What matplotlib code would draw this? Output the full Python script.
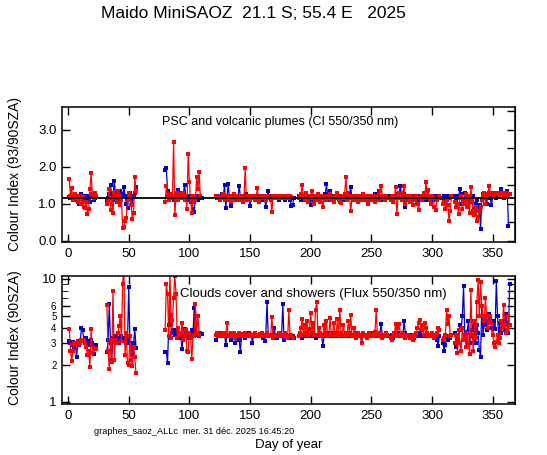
import numpy as np
import matplotlib
matplotlib.use("Agg")
import matplotlib.pyplot as plt
from matplotlib.ticker import FixedLocator, NullFormatter

nan = np.nan

# ---------------- data ----------------
# segment start days (day of year)
seg_starts = [1, 32, 80, 122, 190, 266, 309, 319]

# Top panel: Colour index (93/90 SZA) - blue (morning) series
ci_blue_1 = [1.18,1.15,1.2,1.12,1.1,1.18,1.15,1.2,0.99,1.22,1.25,1.2,1.1,1.05,1.15,1.2,1.1,1.05,1.18,1.2,1.1,1.15,1.2]
ci_blue_2 = [1.1,1.15,1.25,1.51,1.2,1.1,1.62,1.3,1.15,1.05,1.2,1.33,1.1,1.25,1.45,1.2,1.0,0.88,1.2,1.3,1.15,1.0,1.2,1.3,1.45]
ci_blue_3 = [1.92,1.96,1.35,1.2,1.15,1.25,1.2,1.1,1.15,1.2,1.25,1.38,1.3,1.2,1.15,1.25,1.51,1.2,1.1,1.15,1.2,1.05,1.1,0.85,0.78,1.15,1.2,1.1,1.15,1.2,1.15]
ci_blue_4 = [1.2,1.15,1.2,1.1,1.18,1.25,1.2,1.51,0.88,1.2,
             1.53,1.1,0.94,1.15,1.2,1.1,1.18,1.22,1.15,1.48,
             1.2,1.15,1.1,1.2,1.15,1.25,1.1,1.15,0.94,1.2,
             1.15,1.18,1.2,1.1,1.15,1.2,1.18,1.15,1.1,1.2,
             1.15,0.92,1.2,1.35,1.15,1.1,1.2,1.15,1.18,1.2,
             1.15,1.2,1.1,1.18,1.2,1.15,1.2,1.1,1.18,1.2,
             1.15,1.1,0.93,0.95,1.15]
ci_blue_5 = [1.2,1.15,1.1,1.2,1.15,1.2,1.1,1.15,1.2,1.1,
             0.97,1.2,1.15,1.1,1.2,1.15,1.2,1.18,1.1,1.15,
             1.2,1.15,1.25,1.53,1.2,1.1,1.35,1.2,1.15,1.1,
             1.2,1.15,1.18,1.1,1.2,1.15,1.1,1.2,1.15,1.1,
             1.15,1.2,1.25,1.44,1.15,1.1,1.2,1.15,1.2,1.18,
             1.15,1.2,1.1,1.18,1.2,1.15,1.2,1.1,1.15,1.2,
             1.18,1.15,1.1,1.25,1.2,1.15,1.35,1.2,1.15,1.1,
             1.2,1.15,1.18,1.2]
ci_blue_6 = [1.2,1.15,1.1,1.2,1.15,1.25,1.2,1.3,1.48,1.15,
             1.2,1.25,0.92,1.15,1.2,1.18,1.15,1.2,1.1,1.15,
             1.2,1.15,1.1,1.18,1.2,1.15,1.2,1.25,1.15,1.1,
             1.2,1.15,1.18,1.1,1.2,1.15,1.2,1.1,1.15,1.2,
             1.15]
ci_blue_7 = [1.15,1.2,1.1,1.18,1.2,1.15,1.2,1.18]
ci_blue_8 = [1.2,1.1,1.15,1.2,1.39,1.25,1.0,1.1,1.3,1.2,
             1.15,0.9,1.2,1.05,1.1,1.2,0.85,1.0,1.1,0.8,
             0.95,0.31,1.1,1.25,1.2,1.15,1.0,1.2,1.3,1.15,
             0.95,1.2,1.25,1.3,1.15,1.25,1.3,1.25,1.39,1.3,
             1.15,1.25,1.3,1.35,0.4]

# Top panel: red (evening) series
ci_red_1 = [1.66,1.2,1.42,1.1,1.2,1.25,1.15,1.05,1.12,1.2,1.0,1.18,0.92,0.88,1.05,0.72,0.85,1.4,1.83,1.25,1.15,1.3,1.2]
ci_red_2 = [0.99,1.1,1.39,0.83,1.15,0.74,1.3,1.2,1.05,1.35,1.2,0.95,1.1,0.34,0.38,0.53,0.6,1.1,1.3,1.2,0.95,0.59,0.75,1.71,1.35]
ci_red_3 = [1.04,1.48,1.2,1.1,1.25,1.15,1.2,2.67,0.7,1.2,1.3,1.1,1.25,1.15,1.2,1.3,1.1,1.2,0.86,2.35,1.6,1.1,0.75,1.2,1.05,1.1,1.73,1.4,1.85,1.2]
ci_red_4 = [1.2,1.18,1.15,1.1,1.2,1.15,1.25,1.1,1.2,1.15,
            1.1,1.2,1.05,1.15,1.2,1.25,1.1,1.15,1.2,1.1,
            1.15,1.2,1.05,1.15,1.96,1.1,1.2,1.15,1.1,1.2,
            1.15,1.2,1.1,1.15,1.42,1.05,1.15,1.2,1.18,1.15,
            1.2,1.1,1.15,1.2,1.15,1.1,0.77,1.2,1.15,1.18,
            1.2,1.15,1.18,1.2,1.15,1.2,1.18,1.15,1.2,1.18,
            1.15,1.2,1.18]
ci_red_5 = [1.15,1.2,1.25,1.51,1.2,1.1,1.3,1.2,1.05,1.15,
            1.2,1.35,1.15,1.0,1.2,1.1,1.25,1.15,1.05,1.2,
            0.9,1.15,1.2,1.1,1.15,1.2,1.25,1.1,1.15,1.05,
            1.2,1.15,1.3,1.1,1.05,1.01,1.2,1.15,1.25,1.73,
            1.1,1.3,1.2,0.8,1.15,1.2,1.1,1.15,1.2,1.05,
            1.15,1.2,1.1,1.25,1.15,1.1,1.2,1.0,1.15,1.2,
            1.1,1.2,1.15,1.05,1.2,1.15,1.1,1.35,1.49,1.2,
            1.15,1.1,1.2,1.15]
ci_red_6 = [1.1,1.2,1.05,1.15,1.45,0.72,1.2,1.3,1.15,1.1,
            1.3,1.49,1.0,1.2,1.1,1.15,1.05,1.2,0.95,1.15,
            1.1,1.2,1.0,0.82,1.15,1.2,1.1,1.3,1.15,1.58,
            1.2,1.38,1.1,1.0,1.2,1.15,0.9,0.82,1.1,1.15,
            1.2]
ci_red_7 = [1.0,1.05,0.86,1.1,0.95,0.54,0.8,1.2]
ci_red_8 = [1.05,0.9,1.0,0.72,1.15,1.2,0.85,1.1,1.0,1.25,
            0.9,1.2,0.75,1.45,1.1,0.8,0.7,0.9,0.54,0.65,
            0.8,0.9,1.1,1.2,1.3,1.0,1.2,1.25,1.48,1.3,
            1.25,1.3,1.2,1.3,1.25,1.3,1.2,1.3,1.25,1.3,
            1.2,1.3,1.25,1.3,1.2,1.25]

# Bottom panel: Colour index (90 SZA), flux 550/350 - blue series
fx_blue_1 = [3.1,3.0,2.9,3.05,2.8,3.0,2.3,3.0,2.9,3.1,3.95,3.8,3.2,3.1,3.3,3.1,3.0,2.9,3.2,3.0,2.45,2.9,2.9]
fx_blue_2 = [2.55,3.2,6.2,3.0,2.2,3.3,3.1,3.4,3.2,3.3,3.0,3.3,3.4,3.2,3.3,3.1,3.0,3.2,8.5,3.0,2.8,2.4,3.0,3.9,2.75]
fx_blue_3 = [2.55,2.55,2.06,4.2,5.1,4.3,3.6,3.8,3.5,3.7,3.4,3.6,3.5,3.3,2.7,3.4,3.9,3.5,3.4,3.6,3.3,3.5,3.8,3.6,5.8,3.7,3.5,3.6,3.4,3.6,3.55]
fx_blue_4 = [3.2,3.5,3.6,3.4,3.5,3.55,3.4,3.6,2.9,3.5,
             3.4,3.5,3.2,3.6,3.4,3.5,3.0,3.4,3.5,3.2,
             2.53,3.4,3.5,3.45,3.3,3.5,3.4,3.6,3.5,3.45,
             3.0,3.5,3.4,3.5,3.45,3.4,3.5,3.55,3.4,3.3,
             3.1,3.5,6.5,3.4,3.5,3.45,3.4,3.5,4.0,3.4,
             3.3,3.4,3.5,3.45,3.4,6.2,3.2,3.4,3.5,3.45,
             3.4,3.3,3.5,3.4,3.3]
fx_blue_5 = [3.4,3.5,3.45,3.3,3.5,3.4,3.5,3.45,3.4,3.5,
             3.45,3.4,3.5,3.45,3.3,3.4,3.5,3.45,3.4,3.5,
             2.86,3.4,3.5,3.45,3.6,3.4,3.5,3.45,3.4,3.5,
             3.45,3.4,3.5,3.6,3.4,3.5,3.45,3.4,3.5,3.55,
             3.4,3.5,3.45,3.4,3.5,3.45,3.4,3.5,3.6,3.4,
             3.5,3.45,3.0,3.4,3.5,3.45,3.4,3.5,3.45,3.6,
             3.5,3.4,3.45,3.5,3.4,3.5,3.45,3.6,4.25,3.5,
             3.4,3.5,3.45,3.4]
fx_blue_6 = [3.4,3.5,3.3,3.45,3.5,3.4,3.6,3.5,3.45,3.4,
             3.5,4.5,3.6,3.4,3.5,3.45,3.4,3.5,3.45,3.3,
             3.5,3.45,3.4,3.5,3.6,3.4,3.5,3.45,3.4,3.5,
             3.45,3.4,3.5,3.4,3.45,3.5,3.3,3.4,3.2,2.84,
             3.4]
fx_blue_7 = [3.0,2.6,2.9,3.3,3.2,3.4,3.3,3.5]
fx_blue_8 = [3.6,2.8,3.5,3.0,4.2,3.8,5.0,8.7,3.5,3.2,
             3.7,4.5,3.0,3.4,3.8,4.5,3.3,3.0,4.2,3.6,
             2.65,2.3,6.0,3.5,4.2,5.0,3.8,4.5,5.2,4.8,
             4.0,3.5,4.5,3.9,9.5,5.0,3.3,4.4,3.6,4.2,
             4.5,3.8,5.2,4.4,3.6,9.0]

# Bottom panel: red series
fx_red_1 = [3.9,2.6,2.15,2.6,3.0,2.9,3.0,3.1,3.05,3.0,3.2,3.1,3.15,3.0,2.8,2.4,2.6,1.9,3.9,2.5,2.7,2.75,2.7]
fx_red_2 = [6.1,2.6,1.85,3.2,2.1,7.9,2.2,3.2,3.0,3.6,4.1,5.0,3.1,9.1,12.0,2.4,3.6,2.05,2.0,3.4,2.2,1.95,2.8,2.3,1.7]
fx_red_3 = [3.8,9.0,7.5,3.4,12.0,3.3,4.6,7.0,10.5,7.5,3.3,4.0,3.5,3.6,4.4,3.2,3.5,3.8,2.6,2.55,3.6,3.3,2.22,3.5,3.4,6.2,3.6,5.0,3.5]
fx_red_4 = [3.5,3.6,3.4,3.55,3.5,3.6,3.45,3.4,3.6,4.33,
            3.5,3.45,3.6,3.4,3.5,3.6,3.3,3.5,3.45,3.6,
            3.5,3.4,3.55,3.5,3.6,3.4,3.5,3.45,3.55,3.5,
            3.45,3.5,3.6,3.5,3.4,3.5,3.55,3.45,3.6,3.4,
            3.5,3.45,3.6,3.4,3.5,3.45,4.9,3.3,3.45,3.5,
            3.4,3.5,3.6,3.45,3.4,3.5,3.45,3.6,3.4,3.3,
            5.55,3.4,3.5,3.3]
fx_red_5 = [3.4,3.6,4.0,4.7,3.5,4.2,3.6,4.5,3.4,3.9,
            5.3,3.6,4.4,3.5,5.6,6.5,3.5,4.0,3.6,3.4,
            3.5,4.2,3.6,4.5,3.4,3.5,4.8,3.6,3.5,4.4,
            3.6,3.5,4.7,3.4,5.6,3.6,3.5,4.2,3.4,3.6,
            3.5,4.5,3.6,5.1,3.4,3.5,4.0,3.3,3.5,3.6,
            3.4,3.5,3.0,3.6,3.4,3.5,3.3,3.5,3.6,3.4,
            3.5,3.4,3.6,3.7,5.6,3.5,3.4,3.6,3.5,3.3,
            3.5,3.4,3.6,3.5]
fx_red_6 = [3.3,3.2,3.5,3.6,4.3,3.4,4.0,4.3,3.5,3.4,
            3.6,3.5,3.3,3.4,3.5,3.45,3.3,3.4,3.2,3.5,
            3.4,3.6,4.0,4.4,4.65,3.8,4.2,3.5,4.4,3.95,
            3.6,3.4,3.5,3.45,3.6,3.4,3.3,3.5,3.6,4.0,
            3.8]
fx_red_7 = [3.2,3.3,3.5,5.6,4.25,5.0,3.4,3.5]
fx_red_8 = [3.0,3.5,2.5,3.8,3.0,2.6,4.0,3.2,3.5,2.8,
            3.6,3.0,2.44,8.05,3.5,2.6,4.5,3.3,6.5,9.8,
            5.0,9.3,6.0,5.0,4.5,6.9,5.0,4.0,4.5,5.0,
            4.4,3.5,3.0,2.8,3.05,3.5,3.0,3.3,4.5,4.0,
            6.1,4.2,3.6,3.8,5.0,4.2]

ci_ref_level = 1.15

x_ticks = [0, 50, 100, 150, 200, 250, 300, 350]
top_y_ticks = [0.0, 1.0, 2.0, 3.0]
top_y_labels = ["0.0", "1.0", "2.0", "3.0"]
bot_y_ticks = [1, 2, 3, 4, 5, 6, 10]
bot_y_labels = ["1", "2", "3", "4", "5", "6", "10"]

title = "Maido MiniSAOZ  21.1 S; 55.4 E   2025"
top_note = "PSC and volcanic plumes (CI 550/350 nm)"
bot_note = "Clouds cover and showers (Flux 550/350 nm)"
top_ylabel = "Colour Index (93/90SZA)"
bot_ylabel = "Colour Index (90SZA)"
xlabel = "Day of year"
footer = "graphes_saoz_ALLc  mer. 31 déc. 2025 16:45:20"

# ---------------- assembly ----------------
def assemble(segments):
    days = []
    vals = []
    for start, seg in zip(seg_starts, segments):
        d = np.arange(start, start + len(seg))
        days.extend(d.tolist())
        vals.extend(seg)
        days.append(start + len(seg))
        vals.append(nan)
    return np.array(days, float), np.array(vals, float)

d_cib, v_cib = assemble([ci_blue_1, ci_blue_2, ci_blue_3, ci_blue_4, ci_blue_5, ci_blue_6, ci_blue_7, ci_blue_8])
d_cir, v_cir = assemble([ci_red_1, ci_red_2, ci_red_3, ci_red_4, ci_red_5, ci_red_6, ci_red_7, ci_red_8])
d_fxb, v_fxb = assemble([fx_blue_1, fx_blue_2, fx_blue_3, fx_blue_4, fx_blue_5, fx_blue_6, fx_blue_7, fx_blue_8])
d_fxr, v_fxr = assemble([fx_red_1, fx_red_2, fx_red_3, fx_red_4, fx_red_5, fx_red_6, fx_red_7, fx_red_8])

plt.rcParams['font.family'] = ['Liberation Sans', 'DejaVu Sans']

W, H = 547, 455
fig = plt.figure(figsize=(W / 100, H / 100), dpi=100)
fig.patch.set_facecolor('white')

BLUE = '#0000CC'
RED = '#FF0000'

def fr(x0, y0, x1, y1):
    return [x0 / W, 1 - y1 / H, (x1 - x0) / W, (y1 - y0) / H]

ax1 = fig.add_axes(fr(62, 107, 515, 242))
ax2 = fig.add_axes(fr(62, 276, 515, 404))

style = dict(lw=0.9, marker='s', ms=2.8, mew=0)
ax1.plot(d_cib, v_cib, color=BLUE, **style)
ax1.plot(d_cir, v_cir, color=RED, **style)
ax1.axhline(ci_ref_level, color='black', lw=1.3, zorder=5)

ax2.plot(d_fxb, v_fxb, color=BLUE, **style)
ax2.plot(d_fxr, v_fxr, color=RED, **style)
ax2.set_yscale('log')

for ax in (ax1, ax2):
    ax.set_xlim(-5, 368.4)
    ax.set_xticks(x_ticks)
    ax.set_xticklabels([str(t) for t in x_ticks], fontsize=9.5)
    ax.tick_params(axis='both', direction='in', length=6, width=1, top=True, right=False, pad=4)
    for s in ax.spines.values():
        s.set_linewidth(1.1)

ax1.set_ylim(-0.04, 3.62)
ax1.set_yticks(top_y_ticks)
ax1.set_yticklabels(top_y_labels, fontsize=9.5)
sec1 = ax1.secondary_yaxis('right')
sec1.set_yticks([0.0, 0.5, 1.0, 1.5, 2.0, 2.5, 3.0, 3.5])
sec1.set_yticklabels([])
sec1.tick_params(direction='in', length=6, width=1)

ax2.set_ylim(0.96, 10.5)
ax2.yaxis.set_major_locator(FixedLocator(bot_y_ticks))
ax2.set_yticklabels(bot_y_labels)
for lab, t in zip(ax2.get_yticklabels(), bot_y_ticks):
    lab.set_fontsize(9.5 if t in (1, 10) else 7)
ax2.yaxis.set_minor_locator(FixedLocator([7, 8, 9]))
ax2.yaxis.set_minor_formatter(NullFormatter())
ax2.tick_params(axis='y', which='minor', direction='in', length=4)
sec2 = ax2.secondary_yaxis('right')
sec2.yaxis.set_major_locator(FixedLocator([1, 2, 3, 4, 5, 6, 7, 8, 9, 10]))
sec2.yaxis.set_minor_locator(FixedLocator([]))
sec2.set_yticklabels([])
sec2.tick_params(direction='in', length=6, width=1)

fig.text(253 / W, 1 - 14 / H, title, ha='center', va='center', fontsize=12.5)
fig.text(280 / W, 1 - 122 / H, top_note, ha='center', va='center', fontsize=9)
fig.text(313.5 / W, 1 - 294 / H, bot_note, ha='center', va='center', fontsize=9.5)
fig.text(15 / W, 1 - 174 / H, top_ylabel, ha='center', va='center', rotation=90, fontsize=10)
fig.text(15 / W, 1 - 338 / H, bot_ylabel, ha='center', va='center', rotation=90, fontsize=10)
fig.text(289 / W, 1 - 445 / H, xlabel, ha='center', va='center', fontsize=9.5)
fig.text(94 / W, 1 - 432 / H, footer, ha='left', va='center', fontsize=6.6)

fig.savefig('out.png', dpi=100)
